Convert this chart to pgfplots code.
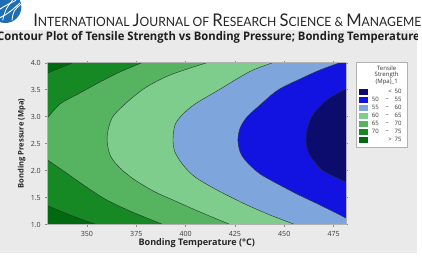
\documentclass[border=0pt]{standalone}
\usepackage{fontspec}
\setmainfont{Open Sans}
\newfontfamily\hdrfont{Lato}
\usepackage{pgfplots}
\usepackage{pgfplotstable}
\pgfplotsset{compat=1.18}
\definecolor{cNavy}{RGB}{12,12,110}
\definecolor{cBlue}{RGB}{18,18,225}
\definecolor{cLBlue}{RGB}{126,166,220}
\definecolor{cLGreen}{RGB}{126,205,140}
\definecolor{cMGreen}{RGB}{86,180,96}
\definecolor{cGreen}{RGB}{22,136,36}
\definecolor{cDGreen}{RGB}{0,106,16}
\definecolor{cLine}{RGB}{35,50,45}
\definecolor{cPanel}{RGB}{234,234,234}
\definecolor{cLogo}{RGB}{30,110,180}
% contour boundaries (T, P)
\pgfplotstableread{
T P
481.3 3.512
477.2 3.438
472.2 3.327
467.1 3.160
463.5 2.975
461.5 2.752
461.0 2.567
462.0 2.344
464.6 2.196
469.1 2.010
475.7 1.881
481.3 1.788
}\Ftab
\pgfplotstableread{
T P
478.2 4.0
468.1 3.865
458.0 3.698
446.8 3.494
437.7 3.216
431.1 2.993
427.6 2.789
426.5 2.567
427.6 2.344
430.1 2.196
435.2 2.010
440.2 1.881
455.4 1.584
468.1 1.361
481.3 1.120
}\Etab
\pgfplotstableread{
T P
444.3 4.0
432.6 3.837
415.9 3.475
404.8 3.234
398.2 3.030
394.6 2.845
393.6 2.567
394.6 2.344
398.7 2.103
404.8 1.881
415.9 1.640
430.1 1.380
442.8 1.176
455.4 1.0
}\Dtab
\pgfplotstableread{
T P
410.8 4.0
392.1 3.772
379.4 3.531
369.3 3.234
362.7 2.975
360.2 2.622
361.7 2.289
366.7 2.048
374.3 1.825
384.5 1.603
393.6 1.454
407.3 1.232
422.5 1.0
}\Ctab
\pgfplotstableread{
T P
377.9 4.0
366.7 3.828
356.6 3.642
345.5 3.420
336.3 3.234
330.0 2.975
}\BTtab
\pgfplotstableread{
T P
330.0 2.196
338.9 1.973
349.0 1.714
359.1 1.473
371.8 1.250
388.5 1.0
}\BBtab
\pgfplotstableread{
T P
342.9 4.0
330.0 3.809
}\ATtab
\pgfplotstableread{
T P
330.0 1.348
341.4 1.176
354.6 1.0
}\ABtab
\newcommand{\BC}[1]{{\fontsize{13}{13}\selectfont #1}}
\begin{document}
\begin{tikzpicture}
\useasboundingbox (0,0) rectangle (316.5pt,191.25pt);
\clip (0,0) rectangle (316.5pt,191.25pt);
\fill[white] (0,0) rectangle (316.5pt,191.25pt);
% logo
\fill[cLogo] (4pt,186pt) circle (12pt);
\draw[white, line width=0.7pt] (-6pt,180pt) .. controls (2pt,186pt) .. (12pt,191pt);
\draw[white, line width=0.7pt] (-4pt,176pt) .. controls (6pt,181pt) .. (15pt,189pt);
\draw[white, line width=0.6pt] (2pt,176pt) .. controls (4pt,184pt) .. (10pt,192pt);
\draw[white, line width=0.6pt] (9pt,176pt) .. controls (10pt,183pt) .. (15.5pt,188pt);
% header
\node[anchor=base west, inner sep=0, text=black!85] at (24.75pt,171.75pt)
 {\resizebox{291pt}{9.5pt}{\hdrfont\fontsize{9.5}{10}\selectfont
 \BC{I}NTERNATIONAL \BC{J}OURNAL OF \BC{R}ESEARCH \BC{S}CIENCE \& \BC{M}ANAGEME\rlap{NT}}};
% panel
\fill[cPanel] (0,1.5pt) rectangle (312.75pt,169pt);
\begin{scope}
\clip (0,1.5pt) rectangle (312.75pt,169pt);
\node[anchor=base, inner sep=0, text=black!88] at (156.4pt,161.25pt)
 {\resizebox{317pt}{6.75pt}{\bfseries Contour Plot of Tensile Strength vs Bonding Pressure; Bonding Temperature}};
\end{scope}
\begin{axis}[
  at={(35.625pt,22.875pt)}, anchor=south west,
  scale only axis, width=223.875pt, height=121.35pt,
  xmin=330, xmax=481.3, ymin=1, ymax=4,
  xtick={350,375,400,425,450,475},
  ytick={1,1.5,2,2.5,3,3.5,4},
  yticklabel style={/pgf/number format/.cd, fixed, fixed zerofill, precision=1},
  /pgf/number format/assume math mode=true,
  tick label style={font=\fontsize{5.3}{6}\selectfont, text=black!78},
  tick align=outside, major tick length=1.5pt,
  tick style={black!45, line width=0.3pt},
  axis line style={black!30, line width=0.4pt},
  xlabel={\bfseries Bonding Temperature (°C)},
  ylabel={\bfseries Bonding Pressure (Mpa)},
  xlabel style={font=\fontsize{6.8}{8}\selectfont, text=black!85, at={(axis description cs:0.5,0)}, anchor=center, yshift=-14.1pt},
  ylabel style={font=\fontsize{5.7}{7}\selectfont, text=black!85, at={(axis description cs:0,0.5)}, anchor=center, yshift=19.3pt},
  axis on top, clip=true,
]
\addplot[fill=cNavy, draw=none] coordinates {(330,1) (481.3,1) (481.3,4) (330,4)} -- cycle;
\addplot[fill=cBlue, draw=none, smooth] table {\Ftab} -- (481.3,1) -- (330,1) -- (330,4) -- (481.3,4) -- cycle;
\addplot[fill=cLBlue, draw=none, smooth] table {\Etab} -- (481.3,1) -- (330,1) -- (330,4) -- cycle;
\addplot[fill=cLGreen, draw=none, smooth] table {\Dtab} -- (330,1) -- (330,4) -- cycle;
\addplot[fill=cMGreen, draw=none, smooth] table {\Ctab} -- (330,1) -- (330,4) -- cycle;
\addplot[fill=cGreen, draw=none, smooth] table {\BTtab} -- (330,4) -- cycle;
\addplot[fill=cGreen, draw=none, smooth] table {\BBtab} -- (330,1) -- cycle;
\addplot[fill=cDGreen, draw=none] table {\ATtab} -- (330,4) -- cycle;
\addplot[fill=cDGreen, draw=none, smooth] table {\ABtab} -- (330,1) -- cycle;
\addplot[cLine, line width=0.3pt, smooth] table {\Ftab};
\addplot[cLine, line width=0.3pt, smooth] table {\Etab};
\addplot[cLine, line width=0.3pt, smooth] table {\Dtab};
\addplot[cLine, line width=0.3pt, smooth] table {\Ctab};
\addplot[cLine, line width=0.3pt, smooth] table {\BTtab};
\addplot[cLine, line width=0.3pt, smooth] table {\BBtab};
\addplot[cLine, line width=0.3pt] table {\ATtab};
\addplot[cLine, line width=0.3pt, smooth] table {\ABtab};
\end{axis}
% legend
\draw[black!30, fill=white, line width=0.4pt] (267pt,81pt) rectangle (305.25pt,144.75pt);
\begin{scope}[every node/.style={inner sep=0, font=\fontsize{4.5}{5}\selectfont, text=black!80}]
\node at (290pt,140pt) {Tensile};
\node at (290pt,134.8pt) {Strength};
\node at (290pt,129.4pt) {(Mpa)\_1};
\foreach \c/\a/\b [count=\k from 0] in {cNavy/</50, cBlue/50/55, cLBlue/55/60, cLGreen/60/65, cMGreen/65/70, cGreen/70/75, cDGreen/>/75}{
  \pgfmathsetmacro{\yc}{122.5-6*\k}
  \fill[\c] (269.5pt,\yc pt-2.25pt) rectangle (276.2pt,\yc pt+2.25pt);
}
\node at (292.5pt,122.5pt) {<};
\node[anchor=east] at (301.3pt,122.5pt) {50};
\node at (292.5pt,86.5pt) {>};
\node[anchor=east] at (301.3pt,86.5pt) {75};
\foreach \a/\b [count=\k from 1] in {50/55, 55/60, 60/65, 65/70, 70/75}{
  \pgfmathsetmacro{\yc}{122.5-6*\k}
  \node[anchor=east] at (284.25pt,\yc pt) {\a};
  \node at (290.5pt,\yc pt) {–};
  \node[anchor=east] at (301.3pt,\yc pt) {\b};
}
\end{scope}
\end{tikzpicture}
\end{document}
